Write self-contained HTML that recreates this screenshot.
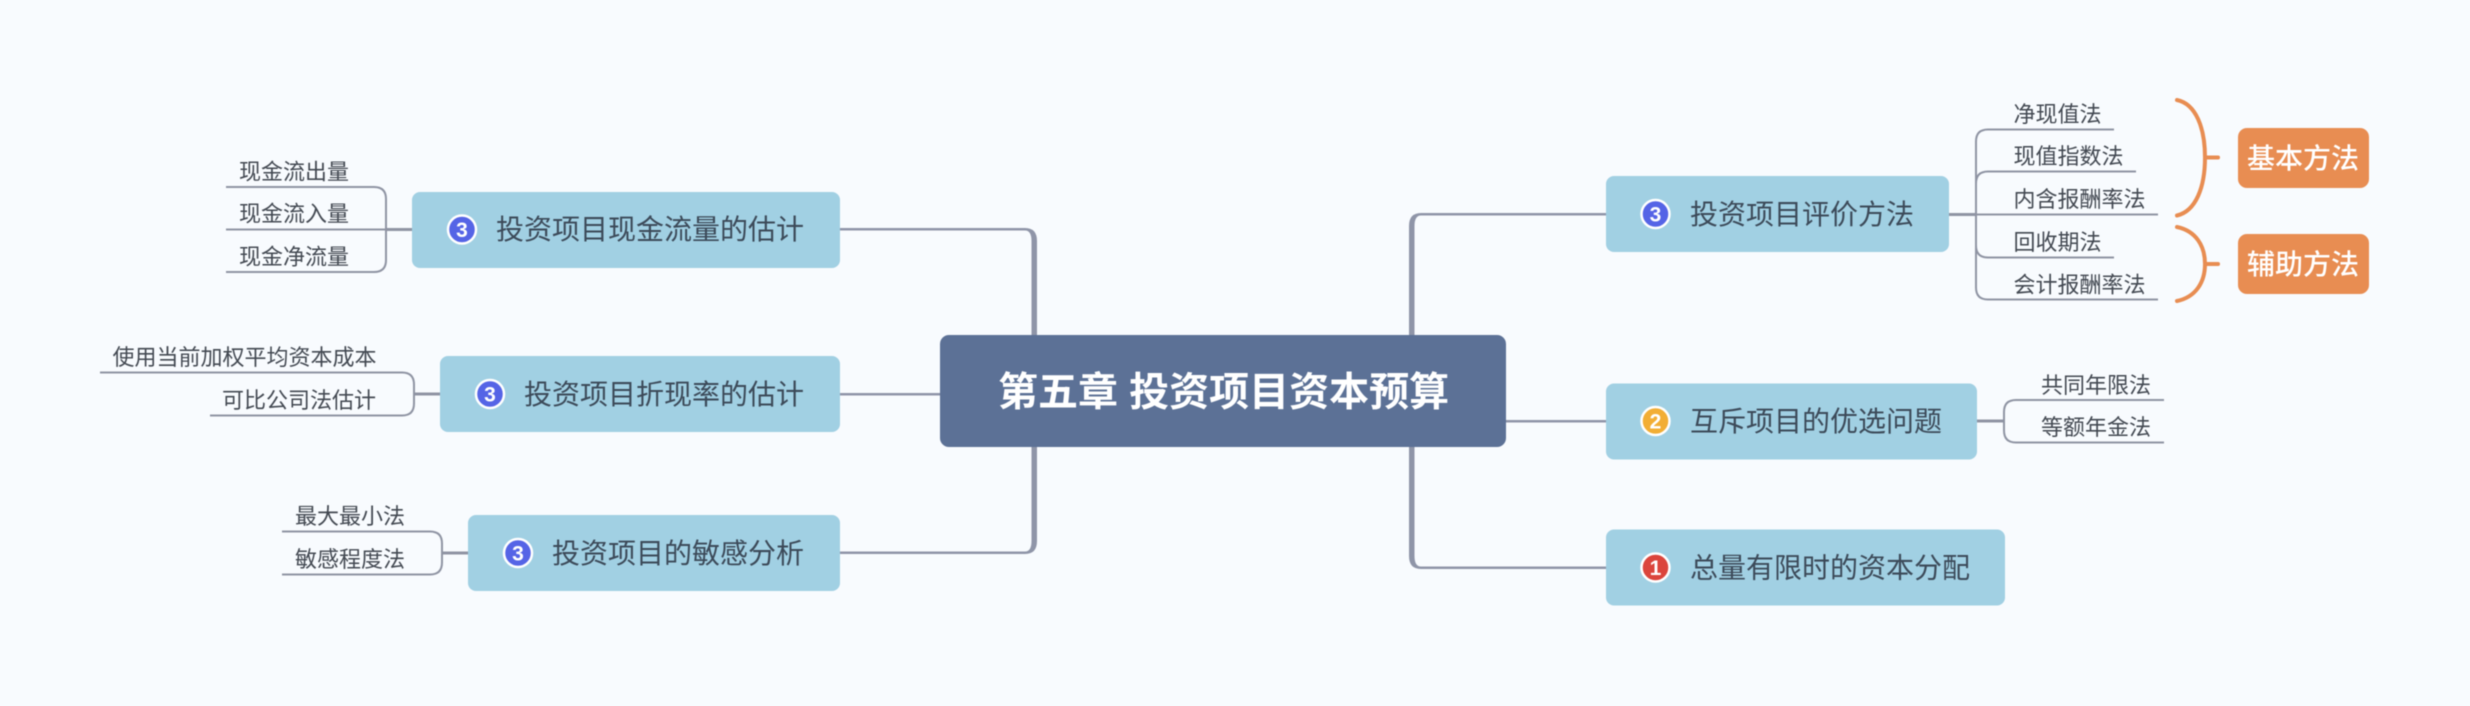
<!DOCTYPE html>
<html>
<head>
<meta charset="utf-8">
<style>
html,body{margin:0;padding:0;background:#f8fbfe;width:2470px;height:706px;overflow:hidden}
svg{display:block;filter:blur(0.4px)}
text{font-family:"Liberation Sans","Noto Sans CJK SC",sans-serif}
.s{font-size:22px;fill:#434952}
.m{font-size:28px;fill:#3c4a59}
.o{font-size:28px;fill:#fff;font-weight:500}
.n{font-size:21px;fill:#fff;font-weight:bold;text-anchor:middle}
.l{fill:none;stroke:#8f94a3;stroke-width:2}
.t{stroke:#8f94a3;stroke-width:3;fill:none}
.c{fill:#8f95a8}
.b{fill:#a1d0e3}
.r{fill:none;stroke:#e88d52;stroke-width:4;stroke-linecap:round}
</style>
</head>
<body>
<svg width="2470" height="706" viewBox="0 0 2470 706" xmlns="http://www.w3.org/2000/svg">
<rect width="2470" height="706" fill="#f8fbfe"/>

<!-- main connectors -->
<path class="c" d="M840 228H1025Q1037 228 1037 241V340H1031.5V241Q1031.5 230.5 1025 230.5H840Z"/>
<path class="c" d="M840 554H1025Q1037 554 1037 541V442H1031.5V541Q1031.5 551.5 1025 551.5H840Z"/>
<rect class="c" x="840" y="393" width="105" height="2.5"/>
<path class="c" d="M1606 213H1421Q1409 213 1409 226V340H1414.5V226Q1414.5 215.5 1421 215.5H1606Z"/>
<path class="c" d="M1606 569H1421Q1409 569 1409 556V442H1414.5V556Q1414.5 566.5 1421 566.5H1606Z"/>
<rect class="c" x="1500" y="420" width="106" height="2.5"/>

<!-- center -->
<rect x="940" y="335" width="566" height="112" rx="9" fill="#5c7196"/>
<text x="998" y="405.5" font-size="40" font-weight="bold" fill="#fff">第五章 投资项目资本预算</text>

<!-- left boxes -->
<rect class="b" x="412" y="192" width="428" height="76" rx="8"/>
<circle cx="462" cy="229.5" r="14" fill="#5564e6" stroke="#fff" stroke-width="2.5"/>
<text class="n" x="462" y="237">3</text>
<text class="m" x="496" y="239">投资项目现金流量的估计</text>

<rect class="b" x="440" y="356" width="400" height="76" rx="8"/>
<circle cx="490" cy="394" r="14" fill="#5564e6" stroke="#fff" stroke-width="2.5"/>
<text class="n" x="490" y="401.5">3</text>
<text class="m" x="524" y="404">投资项目折现率的估计</text>

<rect class="b" x="468" y="515" width="372" height="76" rx="8"/>
<circle cx="518" cy="553" r="14" fill="#5564e6" stroke="#fff" stroke-width="2.5"/>
<text class="n" x="518" y="560.5">3</text>
<text class="m" x="552" y="563">投资项目的敏感分析</text>

<!-- left subtopics 1 -->
<path class="l" d="M226 187H374Q386 187 386 199V260Q386 272 374 272H226"/>
<path class="l" d="M226 229.5H386"/>
<path class="t" d="M386 229.5H412"/>
<text class="s" x="239" y="179.5">现金流出量</text>
<text class="s" x="239" y="221.5">现金流入量</text>
<text class="s" x="239" y="264.5">现金净流量</text>

<!-- left subtopics 2 -->
<path class="l" d="M100 372.5H402Q414 372.5 414 384.5V403.5Q414 415.5 402 415.5H210"/>
<path class="t" d="M414 394H440"/>
<text class="s" x="112.5" y="365">使用当前加权平均资本成本</text>
<text class="s" x="222" y="408">可比公司法估计</text>

<!-- left subtopics 3 -->
<path class="l" d="M282 531.5H430Q442 531.5 442 543.5V562.5Q442 574.5 430 574.5H282"/>
<path class="t" d="M442 553H468"/>
<text class="s" x="295" y="524">最大最小法</text>
<text class="s" x="295" y="567">敏感程度法</text>

<!-- right boxes -->
<rect class="b" x="1606" y="176" width="343" height="76" rx="8"/>
<circle cx="1655.5" cy="214" r="14" fill="#5564e6" stroke="#fff" stroke-width="2.5"/>
<text class="n" x="1655.5" y="221.5">3</text>
<text class="m" x="1690" y="224">投资项目评价方法</text>

<rect class="b" x="1606" y="383.5" width="371" height="76" rx="8"/>
<circle cx="1655.5" cy="421" r="14" fill="#f2ae35" stroke="#fff" stroke-width="2.5"/>
<text class="n" x="1655.5" y="428.5">2</text>
<text class="m" x="1690" y="431">互斥项目的优选问题</text>

<rect class="b" x="1606" y="529.5" width="399" height="76" rx="8"/>
<circle cx="1655.5" cy="567.5" r="14" fill="#db453c" stroke="#fff" stroke-width="2.5"/>
<text class="n" x="1655.5" y="575">1</text>
<text class="m" x="1690" y="577.5">总量有限时的资本分配</text>

<!-- right subtopics 1 -->
<path class="l" d="M2114 129.5H1988Q1976 129.5 1976 141.5V287.5Q1976 299.5 1988 299.5H2158"/>
<path class="l" d="M2136 171.5H1988Q1976 171.5 1976 183.5V245.5Q1976 257.5 1988 257.5H2114"/>
<path class="l" d="M1976 214.5H2158"/>
<path class="t" d="M1949 214.5H1976"/>
<text class="s" x="2013.5" y="122">净现值法</text>
<text class="s" x="2013.5" y="164">现值指数法</text>
<text class="s" x="2013.5" y="207">内含报酬率法</text>
<text class="s" x="2013.5" y="250">回收期法</text>
<text class="s" x="2013.5" y="292.5">会计报酬率法</text>

<!-- right subtopics 2 -->
<path class="l" d="M2164 400H2016Q2004 400 2004 412V430.5Q2004 442.5 2016 442.5H2164"/>
<path class="t" d="M1977 421H2004"/>
<text class="s" x="2041" y="393">共同年限法</text>
<text class="s" x="2041" y="435">等额年金法</text>

<!-- braces -->
<path class="r" d="M2177 100C2196 104 2205 128 2205 157.5C2205 187 2196 211 2177 215.5"/>
<path class="r" d="M2205 157.5H2218"/>
<path class="r" d="M2177 227C2196 231 2205 246 2205 264C2205 282 2196 297 2177 301"/>
<path class="r" d="M2205 264H2218"/>

<!-- orange boxes -->
<rect x="2238" y="128" width="131" height="60" rx="9" fill="#e88d52"/>
<text class="o" x="2247" y="168">基本方法</text>
<rect x="2238" y="234" width="131" height="60" rx="9" fill="#e88d52"/>
<text class="o" x="2247" y="274">辅助方法</text>
</svg>
</body>
</html>
